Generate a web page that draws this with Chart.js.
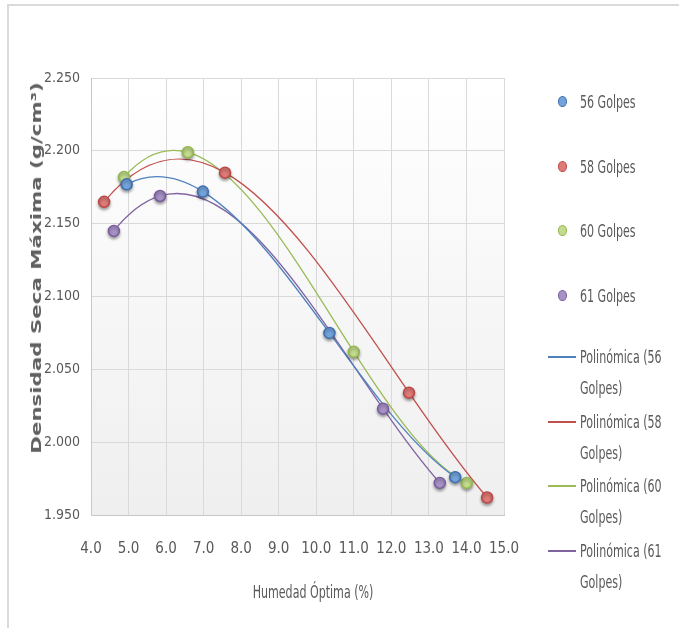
<!DOCTYPE html>
<html lang="es">
<head>
  <meta charset="UTF-8">
  <title>Densidad Seca Máxima vs Humedad Óptima</title>
  <script src="https://cdn.jsdelivr.net/npm/chart.js@4.4.0/dist/chart.umd.min.js"></script>
  <style>
    html, body { margin: 0; padding: 0; background: #fff; }
    #wrap { position: relative; width: 679px; height: 628px; overflow: hidden; }
    #frame { position: absolute; left: 7px; top: 4px; right: -4px; bottom: -4px;
      border-left: 2px solid #dadada; border-top: 2px solid #dadada; }
    #chart { position: absolute; left: 0; top: 0; }
    #yTitle {
      position: absolute; left: 36px; top: 268px; white-space: nowrap;
      font: bold 13.5px "DejaVu Sans", Verdana, sans-serif; color: #606060;
      transform: translate(-50%, -50%) rotate(-90deg) scaleX(1.58);
    }
    #xTitle {
      position: absolute; left: 313px; top: 592px; white-space: nowrap;
      font: 15px "DejaVu Sans Condensed", "DejaVu Sans", sans-serif; color: #595959;
      transform: translate(-50%, -50%) scale(0.82, 1.2);
    }
    .leg { position: absolute; left: 548px; width: 131px; height: 260px;
      font-family: "DejaVu Sans Condensed", "DejaVu Sans", sans-serif;
      font-size: 15px; color: #595959; }
    .leg .item { position: absolute; left: 0; width: 131px; height: 64px; }
    .leg .dot { position: absolute; left: 10px; width: 7px; height: 9px; border-radius: 50%; border: 1.5px solid; }
    .leg .txt { position: absolute; left: 32px; white-space: nowrap; line-height: 18px;
      transform: scale(0.82, 1.2); transform-origin: left center; }
    .leg .ln { position: absolute; left: 0; width: 28px; height: 2px; }
  </style>
</head>
<body>
  <div id="wrap">
    <div id="frame"></div>
    <canvas id="chart" width="679" height="628"></canvas>
    <div id="yTitle">Densidad Seca Máxima (g/cm³)</div>
    <div id="xTitle">Humedad Óptima (%)</div>
    <div class="leg" id="legPts" style="top:70px"></div>
    <div class="leg" id="legLines" style="top:341px"></div>
  </div>
  <script>
    // values
    const series = ['56 Golpes', '58 Golpes', '60 Golpes', '61 Golpes'];
    const humedad56 = [4.95, 6.98, 10.35, 13.7];
    const densidad56 = [2.177, 2.172, 2.075, 1.976];
    const humedad58 = [4.35, 7.57, 12.47, 14.55];
    const densidad58 = [2.165, 2.185, 2.034, 1.962];
    const humedad60 = [4.88, 6.58, 11.0, 14.01];
    const densidad60 = [2.182, 2.199, 2.062, 1.972];
    const humedad61 = [4.61, 5.84, 11.78, 13.29];
    const densidad61 = [2.145, 2.169, 2.023, 1.972];
    const xTicks = [4, 5, 6, 7, 8, 9, 10, 11, 12, 13, 14, 15];
    const yTicks = [1.95, 2.0, 2.05, 2.1, 2.15, 2.2, 2.25];
    const trendOrder = 3; // "Polinómica" trendline order

    const lineColors = ['#4f81bd', '#c0504d', '#9bbb59', '#8064a2'];
    const dotFill = ['#74a2da', '#de7a77', '#c2db8d', '#a792c6'];
    const dotBorder = ['#3e6fae', '#bb4845', '#93b64f', '#7a5c9e'];

    const xs = [humedad56, humedad58, humedad60, humedad61];
    const ys = [densidad56, densidad58, densidad60, densidad61];
    const pts = (i) => xs[i].map((x, k) => ({ x: x, y: ys[i][k] }));

    const font = '"DejaVu Sans Condensed", "DejaVu Sans", sans-serif';

    // least squares polynomial fit, like the spreadsheet trendline
    function polyfit(x, y, n) {
      const m = n + 1;
      const A = [], b = [];
      for (let i = 0; i < m; i++) {
        A.push([]);
        for (let j = 0; j < m; j++) A[i].push(x.reduce((s, v) => s + Math.pow(v, i + j), 0));
        b.push(x.reduce((s, v, k) => s + y[k] * Math.pow(v, i), 0));
      }
      for (let c = 0; c < m; c++) {
        let p = c;
        for (let r = c + 1; r < m; r++) if (Math.abs(A[r][c]) > Math.abs(A[p][c])) p = r;
        [A[c], A[p]] = [A[p], A[c]]; [b[c], b[p]] = [b[p], b[c]];
        for (let r = c + 1; r < m; r++) {
          const f = A[r][c] / A[c][c];
          for (let k = c; k < m; k++) A[r][k] -= f * A[c][k];
          b[r] -= f * b[c];
        }
      }
      const coef = new Array(m).fill(0);
      for (let r = m - 1; r >= 0; r--) {
        let s = b[r];
        for (let k = r + 1; k < m; k++) s -= A[r][k] * coef[k];
        coef[r] = s / A[r][r];
      }
      return coef;
    }
    const polyVal = (c, x) => c.reduce((s, a, i) => s + a * Math.pow(x, i), 0);
    const polyDer = (c, x) => c.reduce((s, a, i) => i ? s + i * a * Math.pow(x, i - 1) : s, 0);

    const datasets = [];
    series.forEach((name, i) => {
      datasets.push({
        label: name, data: pts(i), order: 0,
        pointRadius: 5.5, pointBorderWidth: 1.5,
        backgroundColor: dotFill[i], borderColor: dotBorder[i]
      });
    });
    series.forEach((name, i) => {
      datasets.push({
        label: 'Polinómica (' + name + ')', data: pts(i), order: 1, trend: i,
        showLine: true, tension: 0.4, pointRadius: 0,
        borderColor: lineColors[i], borderWidth: 1.3, fill: false
      });
    });

    // plot area gradient, marker shadow, trendline shape
    const plotFx = {
      id: 'plotFx',
      beforeDraw(chart) {
        const { ctx, chartArea: a } = chart;
        const g = ctx.createLinearGradient(0, a.top, 0, a.bottom);
        g.addColorStop(0, '#ffffff');
        g.addColorStop(1, '#efefef');
        ctx.save();
        ctx.fillStyle = g;
        ctx.fillRect(a.left, a.top, a.right - a.left, a.bottom - a.top);
        ctx.restore();
      },
      beforeDatasetDraw(chart, args) {
        const ds = chart.data.datasets[args.index];
        chart.ctx.save();
        if (ds.trend === undefined) {
          chart.ctx.shadowColor = 'rgba(0,0,0,0.35)';
          chart.ctx.shadowBlur = 3;
          chart.ctx.shadowOffsetY = 2;
          return;
        }
        // bend the line segments so they follow the fitted polynomial
        const line = args.meta.dataset;
        const pe = args.meta.data;
        if (!line || !pe.length) return;
        line.updateControlPoints(chart.chartArea, 'x');
        const sx = chart.scales.x, sy = chart.scales.y;
        const c = polyfit(xs[ds.trend], ys[ds.trend], trendOrder);
        const d = ds.data;
        for (let k = 0; k < d.length - 1; k++) {
          const a = d[k].x, b = d[k + 1].x, h = (b - a) / 3;
          pe[k].cp2x = sx.getPixelForValue(a + h);
          pe[k].cp2y = sy.getPixelForValue(polyVal(c, a) + polyDer(c, a) * h);
          pe[k + 1].cp1x = sx.getPixelForValue(b - h);
          pe[k + 1].cp1y = sy.getPixelForValue(polyVal(c, b) - polyDer(c, b) * h);
        }
      },
      afterDatasetDraw(chart) { chart.ctx.restore(); }
    };

    new Chart(document.getElementById('chart'), {
      type: 'scatter',
      data: { datasets: datasets },
      plugins: [plotFx],
      options: {
        responsive: false,
        animation: false,
        layout: { padding: { left: 26, top: 78, right: 175, bottom: 24 } },
        plugins: { legend: { display: false }, tooltip: { enabled: false } },
        scales: {
          x: {
            min: 4, max: 15,
            afterFit: (s) => { s.height = 89; },
            afterBuildTicks: (s) => { s.ticks = xTicks.map(v => ({ value: v })); },
            grid: { color: '#d9d9d9', drawTicks: false },
            border: { color: '#c8c8c8' },
            ticks: { padding: 25, color: '#595959', font: { family: font, size: 15 },
              maxRotation: 0, minRotation: 0, autoSkip: false,
              callback: (v) => Number(v).toFixed(1) }
          },
          y: {
            min: 1.95, max: 2.25,
            afterFit: (s) => { s.width = 65; },
            afterBuildTicks: (s) => { s.ticks = yTicks.map(v => ({ value: v })); },
            grid: { color: '#d9d9d9', drawTicks: false },
            border: { color: '#c8c8c8' },
            ticks: { padding: 11, color: '#595959', font: { family: font, size: 14 },
              callback: (v) => Number(v).toFixed(3) }
          }
        }
      }
    });

    // legend as html, built from the series names
    const legPts = document.getElementById('legPts');
    const legLines = document.getElementById('legLines');
    const step = [0, 65, 129, 194];
    series.forEach((name, i) => {
      const a = document.createElement('div');
      a.className = 'item';
      a.style.top = step[i] + 'px';
      a.innerHTML = '<span class="dot" style="top:26px;background:' + dotFill[i] + ';border-color:' + dotBorder[i] +
        '"></span><span class="txt" style="top:23px">' + name + '</span>';
      legPts.appendChild(a);
      const parts = name.split(' ');
      const b = document.createElement('div');
      b.className = 'item';
      b.style.top = step[i] + 'px';
      b.innerHTML = '<span class="ln" style="top:15px;background:' + lineColors[i] + '"></span>' +
        '<span class="txt" style="top:7px">Polinómica (' + parts[0] + '</span>' +
        '<span class="txt" style="top:38px">' + parts[1] + ')</span>';
      legLines.appendChild(b);
    });
  </script>
</body>
</html>
